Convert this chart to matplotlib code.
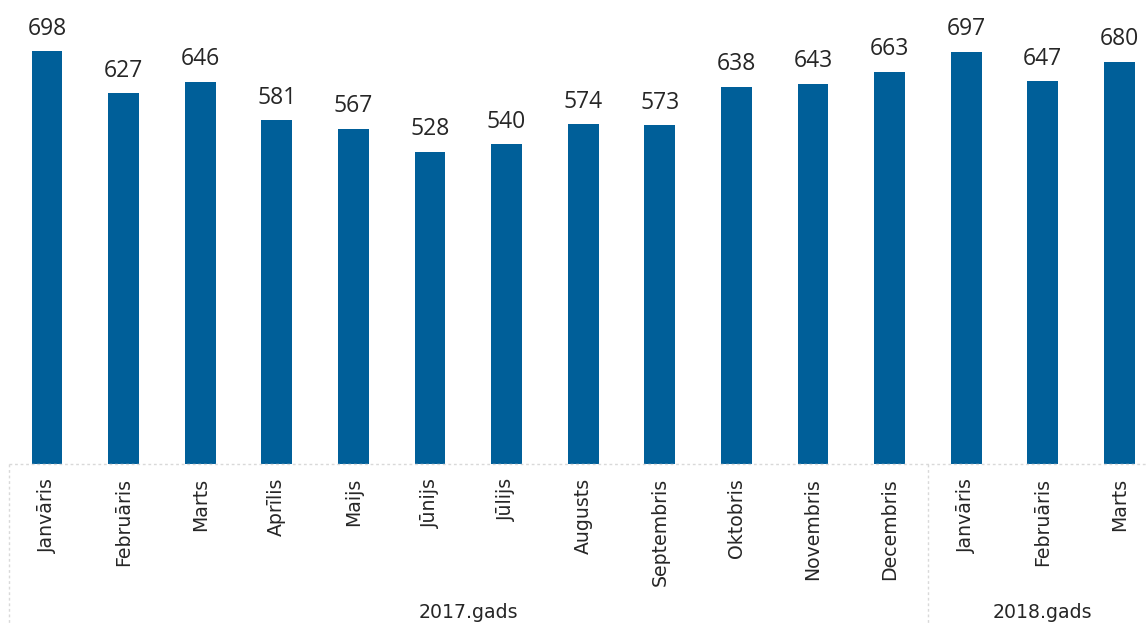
import matplotlib
matplotlib.use("Agg")
import matplotlib.pyplot as plt
import matplotlib.transforms as mtransforms

months = ["Janvāris", "Februāris", "Marts", "Aprīlis", "Maijs", "Jūnijs", "Jūlijs",
          "Augusts", "Septembris", "Oktobris", "Novembris", "Decembris",
          "Janvāris", "Februāris", "Marts"]
values = [698, 627, 646, 581, 567, 528, 540, 574, 573, 638, 643, 663, 697, 647, 680]
years = ["2017.gads", "2018.gads"]
year_counts = [12, 3]

W, H = 1147, 625
fig = plt.figure(figsize=(W / 100, H / 100), dpi=100)
left_px, base_px = 8.7, 464
step = 76.6
ax = fig.add_axes([left_px / W, (H - base_px) / H, (W - left_px) / W, base_px / H])
ax.set_xlim(-0.5, (W - left_px) / step - 0.5)
ax.set_ylim(0, base_px / ((base_px - 51) / 698))
ax.axis("off")

color = "#005f99"
xs = list(range(len(values)))
bars = ax.bar(xs, values, width=0.40, color=color)
for x, v in zip(xs, values):
    ax.annotate(str(v), (x, v), xytext=(0, 7.5), textcoords="offset points",
                ha="center", va="bottom", fontsize=16.5, color="#262626",
                family="Open Sans")

trans = mtransforms.blended_transform_factory(ax.transData, ax.transAxes)
line_kw = dict(color="#d9d9d9", lw=1, ls=(0, (2, 2)), clip_on=False, transform=trans)
ax.plot([-0.5, len(values)], [0, 0], **line_kw)
down = -(H - base_px) / base_px
start = -0.5
bounds = [start]
for c in year_counts:
    start += c
    bounds.append(start)
for b in bounds[:-1]:
    ax.plot([b, b], [0, down], **line_kw)

lab_y = -14 / base_px
for x, m in zip(xs, months):
    ax.text(x, lab_y, m, rotation=90, ha="center", va="top", fontsize=13.6,
            color="#262626", family="DejaVu Sans", transform=trans)

yr_y = -(613 - base_px) / base_px
for i, y in enumerate(years):
    center = (bounds[i] + bounds[i + 1]) / 2
    ax.text(center, yr_y, y, ha="center", va="center", fontsize=13.6,
            color="#262626", family="DejaVu Sans", transform=trans)

fig.savefig("out.png", dpi=100, facecolor="white")
